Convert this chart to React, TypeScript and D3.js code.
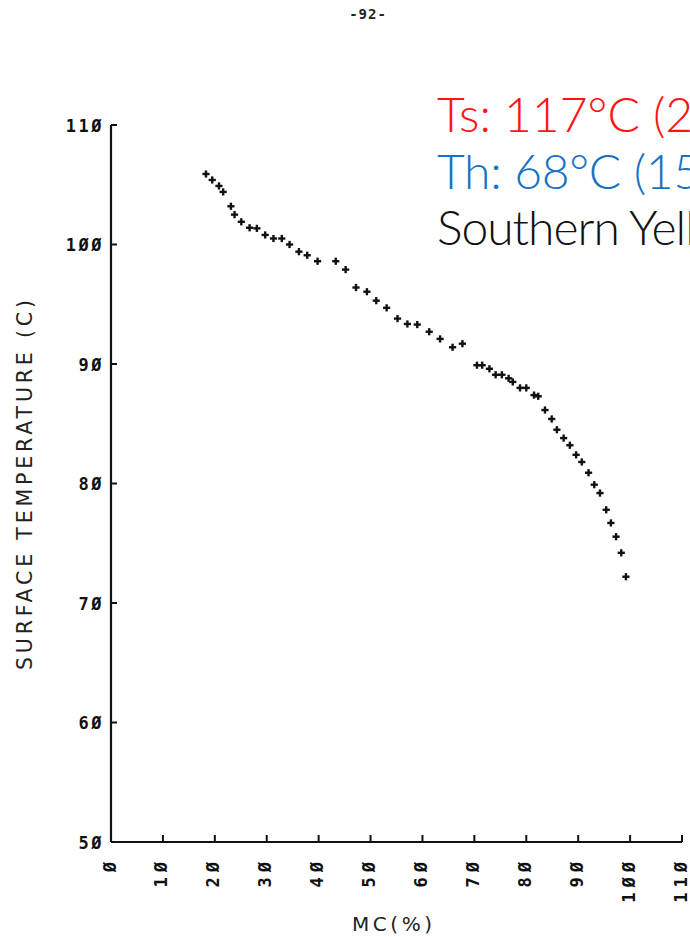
import React from "react";
import * as d3 from "d3";

const mc: number[] = [
  18.3, 19.5, 20.8, 21.6, 23.1, 23.8, 25.1, 26.7, 28.1, 29.7, 31.3, 32.9, 34.4,
  36.2, 37.8, 39.8, 43.3, 45.2, 47.2, 49.3, 51.1, 53.1, 55.2, 57.1, 59.0, 61.3,
  63.4, 65.8, 67.7, 70.5, 71.5, 72.9, 74.1, 75.3, 76.6, 77.4, 78.8, 80.0, 81.5,
  82.3, 83.6, 84.9, 85.9, 87.2, 88.4, 89.6, 90.7, 92.0, 93.1, 94.2, 95.4, 96.3,
  97.3, 98.3, 99.2,
];
const temp: number[] = [
  105.9, 105.4, 104.9, 104.4, 103.2, 102.5, 101.9, 101.4, 101.35, 100.8, 100.5,
  100.5, 100.0, 99.4, 99.1, 98.6, 98.6, 97.9, 96.4, 96.05, 95.3, 94.7, 93.8,
  93.35, 93.3, 92.7, 92.1, 91.4, 91.7, 89.9, 89.9, 89.6, 89.1, 89.1, 88.8, 88.5,
  88.0, 88.0, 87.4, 87.3, 86.15, 85.4, 84.5, 83.8, 83.2, 82.4, 81.8, 80.9, 79.9,
  79.2, 77.8, 76.7, 75.55, 74.2, 72.2,
];
const xTicks: number[] = [0, 10, 20, 30, 40, 50, 60, 70, 80, 90, 100, 110];
const yTicks: number[] = [50, 60, 70, 80, 90, 100, 110];
const annotations: { text: string; color: string; spacing: number }[] = [
  { text: "Ts: 117°C (243°F)", color: "#ff1414", spacing: 0 },
  { text: "Th: 68°C (155°F)", color: "#1572c6", spacing: -0.3 },
  { text: "Southern Yellow Pine", color: "#111111", spacing: -1 },
];
const pageLabel = "-92-";
const xTitle = "MC(%)";
const yTitle = "SURFACE TEMPERATURE (C)";

const fmt = (v: number) => String(v).replace(/0/g, "Ø");

export default function App() {
  const x = d3.scaleLinear().domain([0, 110]).range([111, 682]);
  const y = d3.scaleLinear().domain([50, 110]).range([842, 125]);
  const mono = "'DejaVu Sans Mono', monospace";
  const arm = 3.6;
  return (
    <svg
      width={690}
      height={937}
      style={{ position: "absolute", left: 0, top: 0, background: "#fff" }}
    >
      <rect x={0} y={0} width={690} height={937} fill="#fff" />
      <text x={368} y={19} textAnchor="middle" fontFamily={mono} fontWeight="bold" fontSize={14} fill="#222" letterSpacing={1}>
        {pageLabel}
      </text>
      {/* axes */}
      <line x1={x(0)} x2={x(0)} y1={y(110)} y2={y(50)} stroke="#111" strokeWidth={2.2} />
      <line x1={x(0)} x2={x(110)} y1={y(50)} y2={y(50)} stroke="#111" strokeWidth={2.2} />
      {yTicks.filter((t) => t !== 50).map((t) => (
        <line key={"yt" + t} x1={x(0)} x2={x(0) + 6} y1={y(t)} y2={y(t)} stroke="#111" strokeWidth={2} />
      ))}
      {xTicks.filter((t) => t !== 0).map((t) => (
        <line key={"xt" + t} x1={x(t)} x2={x(t)} y1={y(50)} y2={y(50) - 7} stroke="#111" strokeWidth={2} />
      ))}
      {yTicks.map((t) => (
        <text key={"yl" + t} x={104} y={y(t) + 6.5} textAnchor="end" fontFamily={mono} fontWeight="bold" fontSize={17} letterSpacing={2.5} fill="#111">
          {fmt(t)}
        </text>
      ))}
      {xTicks.map((t) => (
        <text
          key={"xl" + t}
          transform={`translate(${x(t) + 4.5},${y(50) + 15}) rotate(-90)`}
          textAnchor="end"
          fontFamily={mono}
          fontWeight="bold"
          fontSize={17}
          letterSpacing={5}
          fill="#111"
        >
          {fmt(t)}
        </text>
      ))}
      <text x={392} y={931} textAnchor="middle" fontFamily="'DejaVu Sans', sans-serif" fontSize={20} fill="#222" textLength={80} lengthAdjust="spacing">
        {xTitle}
      </text>
      <text
        transform={`translate(32,485) rotate(-90)`}
        textAnchor="middle"
        fontFamily="'DejaVu Sans', sans-serif"
        fontSize={20.5}
        fill="#222"
        textLength={370}
        lengthAdjust="spacing"
      >
        {yTitle}
      </text>
      {/* data */}
      {mc.map((m, i) => (
        <g key={"p" + i} stroke="#111" strokeWidth={2.4}>
          <line x1={x(m) - arm} x2={x(m) + arm} y1={y(temp[i])} y2={y(temp[i])} />
          <line x1={x(m)} x2={x(m)} y1={y(temp[i]) - arm} y2={y(temp[i]) + arm} />
        </g>
      ))}
      {annotations.map((a, i) => (
        <text key={"a" + i} x={437} y={132 + i * 56.5} fontFamily="Lato, sans-serif" fontWeight={300} fontSize={48} letterSpacing={a.spacing} fill={a.color}>
          {a.text}
        </text>
      ))}
    </svg>
  );
}
